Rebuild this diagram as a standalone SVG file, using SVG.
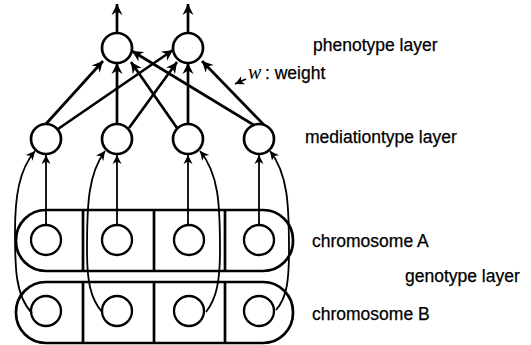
<svg xmlns="http://www.w3.org/2000/svg" width="531" height="345" viewBox="0 0 531 345">
<style>
.n{fill:#fff;stroke:#000;stroke-width:2.7}
.g{fill:none;stroke:#000;stroke-width:2.3}
.box{fill:none;stroke:#000;stroke-width:2.7}
.e{fill:none;stroke:#000;stroke-width:2.7;marker-end:url(#ah)}
.c{fill:none;stroke:#000;stroke-width:1.8;marker-end:url(#ahs)}
.t{font-family:"Liberation Sans",Arial,sans-serif;font-size:17.5px;fill:#000;stroke:#000;stroke-width:0.25}
.w{font-family:"Liberation Serif","Times New Roman",serif;font-style:italic;font-size:20px;fill:#000}
</style>
<defs>
<marker id="ah" markerUnits="userSpaceOnUse" markerWidth="16" markerHeight="14" viewBox="-13 -7 14 14" refX="0" refY="0" orient="auto">
<path d="M0,0 L-11,-5.5 L-7.5,0 L-11,5.5 z" fill="#000"/>
</marker>
<marker id="ahs" markerUnits="userSpaceOnUse" markerWidth="12" markerHeight="10" viewBox="-10 -5 11 10" refX="0" refY="0" orient="auto">
<path d="M0,0 L-9,-4.5 L-6.5,0 L-9,4.5 z" fill="#000"/>
</marker>
</defs>
<g id="genotype">
<g id="chromosomeA">
<rect class="box" x="16" y="210" width="277" height="61" rx="30" ry="30"/>
<line class="box" x1="83" y1="210" x2="83" y2="271"/>
<line class="box" x1="154" y1="210" x2="154" y2="271"/>
<line class="box" x1="225" y1="210" x2="225" y2="271"/>
</g>
<g id="chromosomeB">
<rect class="box" x="16" y="282" width="277" height="61" rx="30" ry="30"/>
<line class="box" x1="83" y1="282" x2="83" y2="343"/>
<line class="box" x1="154" y1="282" x2="154" y2="343"/>
<line class="box" x1="225" y1="282" x2="225" y2="343"/>
</g>
</g>
<g id="connectors">
<line class="e" x1="117" y1="33" x2="117" y2="4"/>
<line class="e" x1="188" y1="33" x2="188" y2="4"/>
<line class="e" x1="45" y1="125" x2="103" y2="61"/>
<line class="e" x1="58" y1="129" x2="173" y2="50"/>
<line class="e" x1="117" y1="124" x2="117" y2="63"/>
<line class="e" x1="129" y1="128" x2="177" y2="62"/>
<line class="e" x1="177" y1="128" x2="131" y2="62"/>
<line class="e" x1="188" y1="124" x2="188" y2="63"/>
<line class="e" x1="257" y1="127" x2="132" y2="51"/>
<line class="e" x1="266" y1="127" x2="202" y2="61"/>
<line class="c" x1="46" y1="225" x2="46" y2="155"/>
<line class="c" x1="117" y1="225" x2="117" y2="155"/>
<line class="c" x1="188" y1="225" x2="188" y2="155"/>
<line class="c" x1="259" y1="225" x2="259" y2="155"/>
<path class="c" d="M32,313 C15,296 15,265 15,232 C15,196 19,170 35,151"/>
<path class="c" d="M102,312 C90,298 87,280 87,250 C87,205 88,174 105,151"/>
<path class="c" d="M206,312 C217,298 220,280 220,250 C220,205 219,174 200,151"/>
<path class="c" d="M276,310 C287,298 289,280 289,250 C289,205 288,174 270,151"/>
<line class="c" x1="246" y1="79" x2="235" y2="84"/>
</g>
<g id="P1"><circle class="n" cx="117" cy="48" r="15"/></g>
<g id="P2"><circle class="n" cx="188" cy="48" r="15"/></g>
<g id="M1"><circle class="n" cx="46" cy="139" r="15"/></g>
<g id="M2"><circle class="n" cx="117" cy="139" r="15"/></g>
<g id="M3"><circle class="n" cx="188" cy="139" r="15"/></g>
<g id="M4"><circle class="n" cx="259" cy="139" r="15"/></g>
<g id="A1"><circle class="g" cx="46" cy="240" r="15"/></g>
<g id="A2"><circle class="g" cx="117" cy="240" r="15"/></g>
<g id="A3"><circle class="g" cx="189" cy="240" r="15"/></g>
<g id="A4"><circle class="g" cx="259" cy="240" r="15"/></g>
<g id="B1"><circle class="g" cx="46" cy="311" r="15"/></g>
<g id="B2"><circle class="g" cx="117" cy="311" r="15"/></g>
<g id="B3"><circle class="g" cx="189" cy="311" r="15"/></g>
<g id="B4"><circle class="g" cx="259" cy="311" r="15"/></g>
<g id="labels">
<text class="t" x="313" y="51">phenotype layer</text>
<text class="w" x="248" y="79">w</text>
<text class="t" x="265" y="79">: weight</text>
<text class="t" x="305" y="143">mediationtype layer</text>
<text class="t" x="312" y="247">chromosome A</text>
<text class="t" x="405" y="282">genotype layer</text>
<text class="t" x="312" y="320">chromosome B</text>
</g>
</svg>
